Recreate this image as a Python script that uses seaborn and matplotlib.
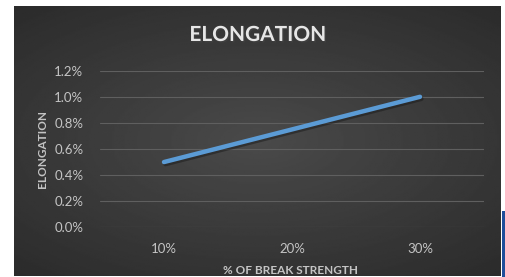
import numpy as np
import pandas as pd
import seaborn as sns
import matplotlib.pyplot as plt
import matplotlib.patheffects as pe
from matplotlib.patches import Rectangle

# data
break_strength = ["10%", "20%", "30%"]
elongation = [0.5, 0.75, 1.0]
y_ticks = [0.0, 0.2, 0.4, 0.6, 0.8, 1.0, 1.2]

df = pd.DataFrame({"strength": break_strength, "elongation": elongation})

sns.set_theme(style="dark")
plt.rcParams["font.family"] = ["Lato", "DejaVu Sans"]

W, H = 505, 277
fig = plt.figure(figsize=(W / 100, H / 100), dpi=100)
fig.patch.set_facecolor("white")

# dark chart area with a soft radial gradient
bg = fig.add_axes([14 / W, 1 / H, 487 / W, 270 / H])
yy, xx = np.mgrid[-1:1:200j, -1:1:300j]
r = np.sqrt((xx * 0.8) ** 2 + (yy * 0.9) ** 2)
bg.imshow(0.29 - 0.10 * r, cmap="gray", vmin=0, vmax=1, aspect="auto",
          extent=[0, 1, 0, 1])
bg.set_axis_off()

# blue piece at the bottom right edge
fig.patches.append(Rectangle((502 / W, 0), 3 / W, 66 / H, transform=fig.transFigure,
                             facecolor="#1f4e9a", edgecolor="none", zorder=5))

ax = fig.add_axes([100 / W, 1 - 227.3 / H, 384 / W, 156.6 / H])
ax.patch.set_alpha(0)
sns.lineplot(data=df, x="strength", y="elongation", ax=ax, color="#5b9bd5",
             linewidth=3.2, solid_capstyle="round",
             path_effects=[pe.SimpleLineShadow(offset=(1, -1.5), alpha=0.5),
                           pe.Normal()])

ax.set_xlim(-0.5, 2.5)
ax.set_ylim(0, 1.2)
ax.set_yticks(y_ticks)
ax.set_yticklabels([f"{v:.1f}%" for v in y_ticks])
ax.grid(axis="y", color="#5f5f5f", linewidth=0.8)
ax.grid(axis="x", visible=False)
for s in ax.spines.values():
    s.set_visible(False)
ax.tick_params(axis="both", colors="#c4c4c4", labelsize=9.5, length=0)
ax.tick_params(axis="y", pad=12)
ax.tick_params(axis="x", pad=11)

ax.set_xlabel("% OF BREAK STRENGTH", color="#c4c4c4", fontsize=8.5,
              fontweight="bold")
ax.set_ylabel("ELONGATION", color="#c4c4c4", fontsize=8.5,
              fontweight="bold")
ax.xaxis.set_label_coords(0.497, -0.24)
ax.yaxis.set_label_coords(-0.135, 0.5)

fig.text(0.51, 1 - 35 / H, "ELONGATION", ha="center", va="center",
         color="#e6e6e6", fontsize=15, fontweight="bold",
         path_effects=[pe.withSimplePatchShadow(offset=(1, -1), alpha=0.6)])

fig.savefig("out.png", dpi=100)
